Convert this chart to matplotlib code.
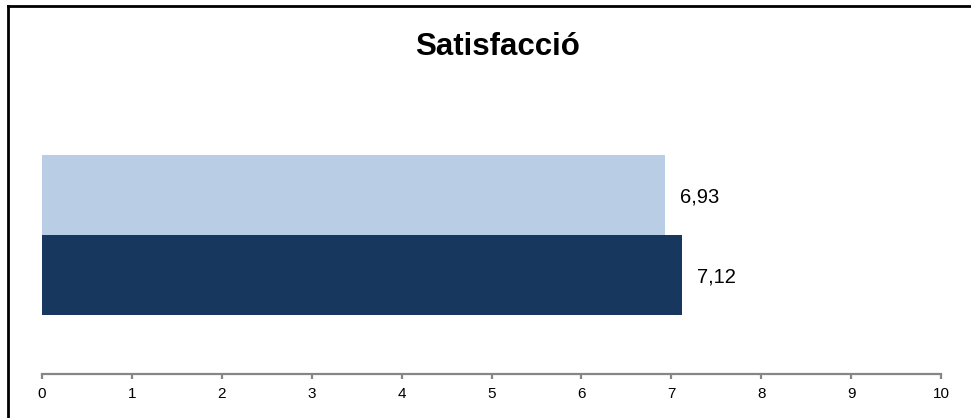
import matplotlib.pyplot as plt
from matplotlib.lines import Line2D

plt.rcParams['font.family'] = ['Liberation Sans', 'DejaVu Sans']

# data
title = 'Satisfacció'
values = [7.12, 6.93]
labels = ['7,12', '6,93']
colors = ['#17375E', '#B9CDE5']
xticks = list(range(0, 11))

fig = plt.figure(figsize=(9.71, 4.18), dpi=100)
ax = fig.add_axes([42 / 971, 44 / 418, 899 / 971, 299 / 418])

pos = [0, 1]
ax.barh(pos, values, height=1.0, color=colors, edgecolor='none')

for p, v, lab in zip(pos, values, labels):
    ax.annotate(lab, xy=(v, p), xytext=(11, -1.5), textcoords='offset points',
                ha='left', va='center', fontsize=14.5, color='black')

ax.set_xlim(0, 10)
ax.set_ylim(-1.24, 2.5)
ax.set_xticks(xticks)
ax.set_xticklabels([str(t) for t in xticks])
ax.set_yticks([])
for s in ['top', 'right', 'left']:
    ax.spines[s].set_visible(False)
ax.spines['bottom'].set_color('#868686')
ax.spines['bottom'].set_linewidth(1.6)
ax.tick_params(axis='x', colors='#868686', length=3.5, width=1.6, pad=6,
               labelsize=11, labelcolor='black')

fig.text(498 / 971, 1 - 47 / 418, title, ha='center', va='center',
         fontsize=22.5, fontweight='bold')

# outer frame (only top and left visible)
fig.add_artist(Line2D([8 / 971, 1.0], [1 - 6 / 418, 1 - 6 / 418],
                      transform=fig.transFigure, color='black', linewidth=2))
fig.add_artist(Line2D([8 / 971, 8 / 971], [0.0, 1 - 6 / 418],
                      transform=fig.transFigure, color='black', linewidth=2))

fig.savefig('out.png', dpi=100)
